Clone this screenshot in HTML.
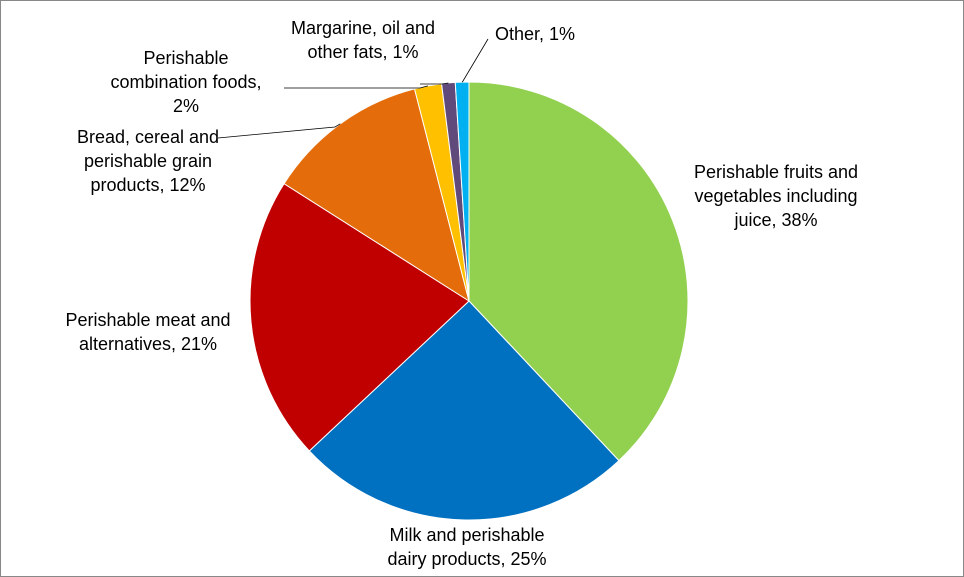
<!DOCTYPE html>
<html><head><meta charset="utf-8">
<style>
html,body{margin:0;padding:0;background:#fff;}
#wrap{width:964px;height:577px;position:relative;overflow:hidden;}
svg{position:absolute;left:0;top:0;}
text{font-family:"Liberation Sans",sans-serif;font-size:18px;fill:#000;}
</style></head>
<body>
<div id="wrap">
<svg id="chart" width="964" height="577">
<rect x="0.5" y="0.5" width="963" height="576" fill="#fff" stroke="#888"/>
</svg>
</div>
<script>
const categories=["Perishable fruits and vegetables including juice","Milk and perishable dairy products","Perishable meat and alternatives","Bread, cereal and perishable grain products","Perishable combination foods","Margarine, oil and other fats","Other"];
const values=[38,25,21,12,2,1,1];
const colors=["#92d050","#0070c0","#c00000","#e46c0a","#ffc000","#604a7b","#00b0f0"];
const labelLines=[
 ["Perishable fruits and","vegetables including","juice, 38%"],
 ["Milk and perishable","dairy products, 25%"],
 ["Perishable meat and","alternatives, 21%"],
 ["Bread, cereal and","perishable grain","products, 12%"],
 ["Perishable","combination foods,","2%"],
 ["Margarine, oil and","other fats, 1%"],
 ["Other, 1%"]
];
const NS="http://www.w3.org/2000/svg";
const svg=document.getElementById('chart');
const cx=469,cy=301,r=219;
const total=values.reduce((a,b)=>a+b,0);
function pt(a,rr){return [cx+rr*Math.sin(a),cy-rr*Math.cos(a)];}
let acc=0;
const mids=[];
values.forEach((v,i)=>{
  const a0=acc/total*2*Math.PI; acc+=v; const a1=acc/total*2*Math.PI;
  const p0=pt(a0,r),p1=pt(a1,r);
  const large=(a1-a0)>Math.PI?1:0;
  const p=document.createElementNS(NS,'path');
  p.setAttribute('d',`M${cx},${cy}L${p0[0]},${p0[1]}A${r},${r} 0 ${large} 1 ${p1[0]},${p1[1]}Z`);
  p.setAttribute('fill',colors[i]);p.setAttribute('stroke','#fff');p.setAttribute('stroke-width','1');
  
  
  svg.appendChild(p);
  mids.push((a0+a1)/2);
});
const labelPos=[[776,178,'middle'],[467,541,'middle'],[148,326,'middle'],[148,143,'middle'],[186,64,'middle'],[363,34,'middle'],[535,40,'middle']];
labelLines.forEach((lines,i)=>{
  const t=document.createElementNS(NS,'text');
  t.setAttribute('x',labelPos[i][0]);t.setAttribute('y',labelPos[i][1]);
  t.setAttribute('text-anchor',labelPos[i][2]);
  
  
  lines.forEach((l,j)=>{
    const s=document.createElementNS(NS,'tspan');
    s.setAttribute('x',labelPos[i][0]);s.setAttribute('dy',j?24:0);s.textContent=l;t.appendChild(s);
  });
  svg.appendChild(t);
});
const leaders=[[3,[[218,138],[335,127]]],[4,[[284,88],[420,88]]],[5,[[420,84],[442,84]]],[6,[[488,39],[463,81]]]];
leaders.forEach(([i,pts])=>{
  const m=pt(mids[i],r);
  const l=document.createElementNS(NS,'polyline');
  l.setAttribute('points',pts.map(p=>p.join(',')).join(' ')+' '+m[0]+','+m[1]);
  l.setAttribute('fill','none');l.setAttribute('stroke','#000');l.setAttribute('stroke-width','0.8');
  
  
  svg.appendChild(l);
});
</script>
</body></html>
